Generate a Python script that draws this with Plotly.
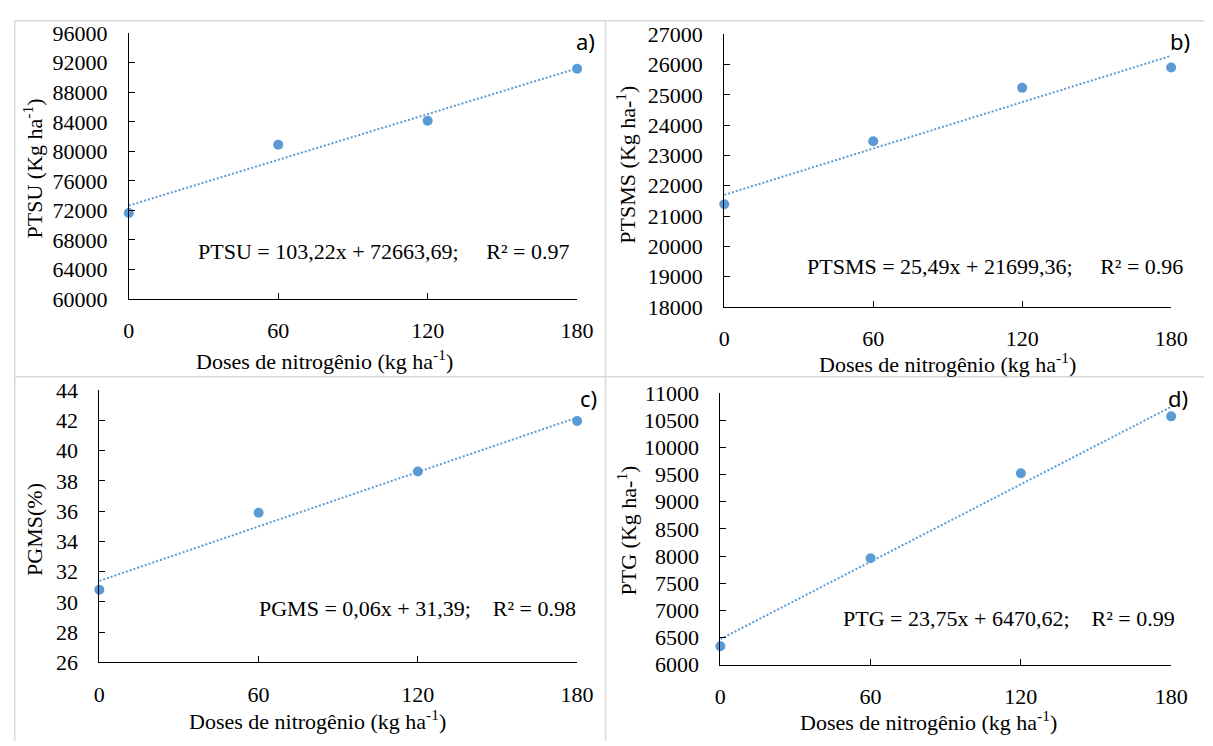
import plotly.graph_objects as go

# ---------------- data ----------------
doses = [0, 60, 120, 180]
ptsu = [71650, 80900, 84150, 91200]
ptsms = [21390, 23470, 25230, 25900]
pgms = [30.81, 35.90, 38.62, 41.96]
ptg = [6338, 7958, 9524, 10571]

slopes = [103.22, 25.49, 0.06, 23.75]
intercepts = [72663.69, 21699.36, 31.39, 6470.62]

y_ranges = [[60000, 96000], [18000, 27000], [26, 44], [6000, 11000]]
y_dticks = [4000, 1000, 2, 500]
x_ticks = [0, 60, 120, 180]

panel_labels = ["a)", "b)", "c)", "d)"]
y_titles = ["PTSU (Kg ha<sup>-1</sup>)", "PTSMS (Kg ha-<sup>1</sup>)",
            "PGMS(%)", "PTG (Kg ha-<sup>1</sup>)"]
x_title = "Doses de nitrogênio (kg ha<sup>-1</sup>)"
equations = ["PTSU = 103,22x + 72663,69;", "PTSMS = 25,49x + 21699,36;",
             "PGMS = 0,06x + 31,39;", "PTG = 23,75x + 6470,62;"]
r2_values = ["0.97", "0.96", "0.98", "0.99"]

series = [ptsu, ptsms, pgms, ptg]

# ---------------- layout (screen pixels) ----------------
W, H = 1213, 746
OFF = 8  # page body margin: the figure is drawn 8px right / down in the window
# plot area: x_left, x_right, y_top, y_bottom
areas = [(125, 582, 21.7, 296.7), (732, 1187.5, 22.7, 305),
         (95, 582, 391, 672.7), (728, 1187.5, 394, 675)]
ytitle_pos = [(27, 162), (631.5, 158), (29, 535), (633, 536)]
xtitle_pos = [(325, 360), (960, 363), (317, 732), (940.5, 733)]
eq_pos = [(384.5, 248), (1007.5, 263), (419, 617), (1022, 627)]
eq_gaps = [5, 5, 4, 4]
label_pos = [(591, 30), (1197, 30), (594, 399), (1195, 399)]


def fx(x):
    return (x - OFF) / W


def fy(y):
    return 1 - (y - OFF) / H


BLUE = "#5b9bd5"
SERIF = "Liberation Serif"
FS = 22

fig = go.Figure()
layout = dict(
    width=W, height=H,
    margin=dict(l=0, r=0, t=0, b=0),
    paper_bgcolor="white", plot_bgcolor="white",
    showlegend=False,
    font=dict(family=SERIF, size=FS, color="black"),
)
annotations = []
shapes = []

for i in range(4):
    ax = "" if i == 0 else str(i + 1)
    xr, yr = "x" + ax, "y" + ax
    xl, xrgt, yt, yb = areas[i]
    # trend line from regression coefficients
    trend_y = [intercepts[i] + slopes[i] * d for d in (doses[0], doses[-1])]
    fig.add_trace(go.Scatter(
        x=[doses[0], doses[-1]], y=trend_y, mode="lines",
        line=dict(color=BLUE, width=2, dash="2px,2px"),
        xaxis=xr, yaxis=yr, cliponaxis=False, hoverinfo="skip"))
    fig.add_trace(go.Scatter(
        x=doses, y=series[i], mode="markers",
        marker=dict(color=BLUE, size=10),
        xaxis=xr, yaxis=yr, cliponaxis=False))

    layout["xaxis" + ax] = dict(
        domain=[fx(xl), fx(xrgt)], anchor=yr, range=[0, 180],
        tickvals=x_ticks, tickformat="d", ticks="inside", ticklen=6, tickcolor="black",
        showline=True, linecolor="black", linewidth=1,
        showgrid=False, zeroline=False,
        tickfont=dict(family=SERIF, size=FS, color="black"),
        ticklabelstandoff=12,
    )
    layout["yaxis" + ax] = dict(
        domain=[fy(yb), fy(yt)], anchor=xr, range=y_ranges[i],
        dtick=y_dticks[i], tick0=y_ranges[i][0], tickformat="d",
        ticks="inside", ticklen=6, tickcolor="black",
        showline=True, linecolor="black", linewidth=1,
        showgrid=False, zeroline=False,
        tickfont=dict(family=SERIF, size=FS, color="black"),
        ticklabelstandoff=16,
    )

    annotations.append(dict(
        text=y_titles[i], x=fx(ytitle_pos[i][0]), y=fy(ytitle_pos[i][1]),
        xref="paper", yref="paper", textangle=-90, showarrow=False,
        xanchor="center", yanchor="middle",
        font=dict(family=SERIF, size=FS, color="black")))
    annotations.append(dict(
        text=x_title, x=fx(xtitle_pos[i][0]), y=fy(xtitle_pos[i][1]),
        xref="paper", yref="paper", showarrow=False,
        xanchor="center", yanchor="middle",
        font=dict(family=SERIF, size=FS, color="black")))
    annotations.append(dict(
        text=equations[i] + "\u00a0" * eq_gaps[i] + "R\u00b2 = " + r2_values[i],
        x=fx(eq_pos[i][0]), y=fy(eq_pos[i][1]),
        xref="paper", yref="paper", showarrow=False,
        xanchor="center", yanchor="middle",
        font=dict(family=SERIF, size=FS, color="black")))
    annotations.append(dict(
        text=panel_labels[i], x=fx(label_pos[i][0]), y=fy(label_pos[i][1]),
        xref="paper", yref="paper", showarrow=False,
        xanchor="center", yanchor="middle",
        font=dict(family="Noto Sans", size=22, color="black")))

# panel frame lines (light grey)
GREY = "#d9d9d9"
for (x0, y0, x1, y1) in [(8, 8.75, W + OFF, 8.75), (8.75, 8, 8.75, H + OFF),
                         (611, 8, 611, H + OFF), (8, 377, W + OFF, 377)]:
    shapes.append(dict(type="line", xref="paper", yref="paper",
                       x0=fx(x0), y0=fy(y0), x1=fx(x1), y1=fy(y1),
                       line=dict(color=GREY, width=1.5)))

layout["annotations"] = annotations
layout["shapes"] = shapes
fig.update_layout(**layout)
fig.write_html("out.html")
